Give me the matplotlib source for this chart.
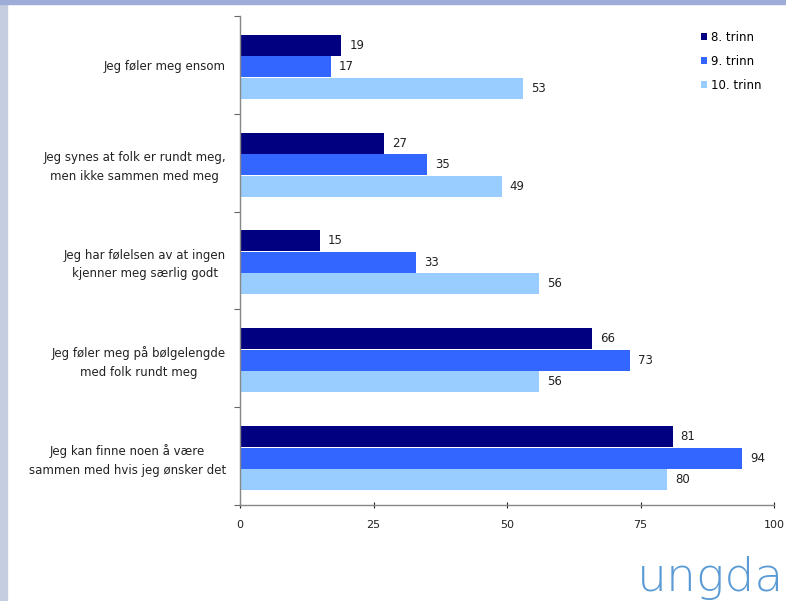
import matplotlib.pyplot as plt
import matplotlib.patches as mpatches
import numpy as np

# survey data (percent), top to bottom
statements = ["Jeg føler meg ensom",
              "Jeg synes at folk er rundt meg,\nmen ikke sammen med meg",
              "Jeg har følelsen av at ingen\nkjenner meg særlig godt",
              "Jeg føler meg på bølgelengde\nmed folk rundt meg",
              "Jeg kan finne noen å være\nsammen med hvis jeg ønsker det"]
grade8 = [19, 27, 15, 66, 81]
grade9 = [17, 35, 33, 73, 94]
grade10 = [53, 49, 56, 56, 80]
series_names = ["8. trinn", "9. trinn", "10. trinn"]
colors = ["#000080", "#3366ff", "#99ccff"]

plt.rcParams['font.family'] = ['DejaVu Sans']
fig = plt.figure(figsize=(7.86, 6.01), dpi=100)

# slide frame strips
fig.patches.append(mpatches.Rectangle((0, 0), 7/786, 1, transform=fig.transFigure,
                                      color="#c5cee0", zorder=0))
fig.patches.append(mpatches.Rectangle((0, 1 - 4/601), 1, 4/601, transform=fig.transFigure,
                                      color="#9eacd8", zorder=0))

ax = fig.add_axes([240/786, 1 - 505/601, 534/786, 489/601])

n = len(statements)
y = np.arange(n)
h = 0.22
for i, vals in enumerate([grade8, grade9, grade10]):
    pos = y + (i - 1) * h + 0.02
    ax.barh(pos, vals, height=h - 0.005, color=colors[i], label=series_names[i])
    for p, v in zip(pos, vals):
        ax.text(v + 1.5, p, str(v), va="center", ha="left", fontsize=8.5, color="#222222")

ax.set_xlim(0, 100)
ax.set_ylim(n - 0.5, -0.5)
ax.set_xticks([0, 25, 50, 75, 100])
ax.tick_params(axis="x", labelsize=8, colors="#222222", direction="inout", length=5,
               pad=8, width=0.8)
for t in ax.get_xticklines():
    t.set_color("#666666")
ax.set_yticks(y)
ax.set_yticklabels(statements, fontsize=8.5, linespacing=1.55, color="#222222")
ax.tick_params(axis="y", length=0, pad=10)
ax.set_yticks(np.arange(n + 1) - 0.5, minor=True)
ax.tick_params(axis="y", which="minor", length=4, color="#666666", width=0.8)
for lbl in ax.get_yticklabels():
    lbl.set_multialignment("center")

for s in ["top", "right"]:
    ax.spines[s].set_visible(False)
for s in ["left", "bottom"]:
    ax.spines[s].set_color("#888888")
    ax.spines[s].set_linewidth(1.0)

leg = ax.legend(loc="upper left", bbox_to_anchor=(690/786, 1 - 20/601),
                bbox_transform=fig.transFigure, frameon=False, fontsize=8.5,
                handlelength=0.5, handleheight=0.5, handletextpad=0.4,
                labelspacing=0.95)

# logo text at the bottom right
fig.text(784/786, 1 - 600/601, "ungda", fontsize=34, color="#5b9bd5",
         fontweight="light", ha="right", va="bottom", family="DejaVu Sans")

fig.savefig("out.png", dpi=100)
